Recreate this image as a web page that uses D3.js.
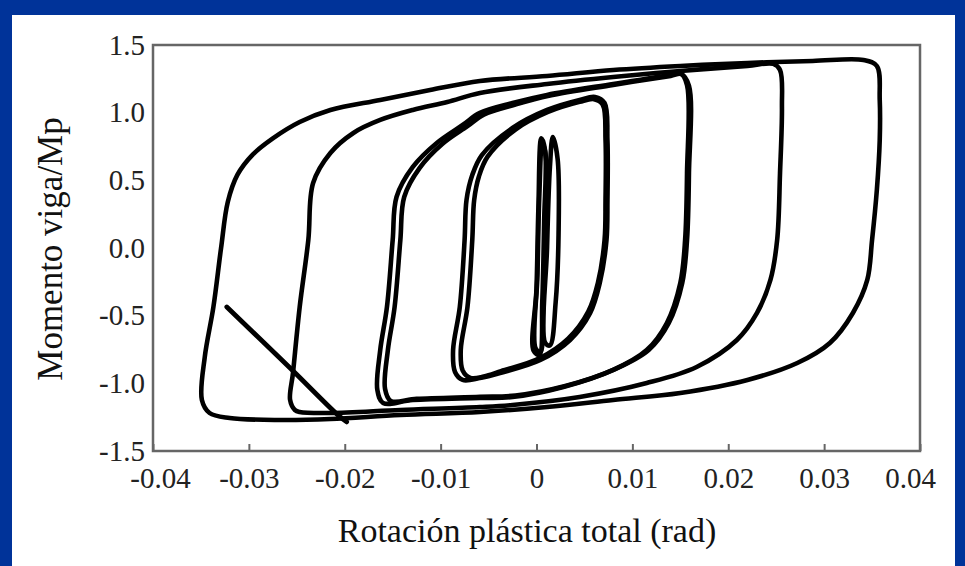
<!DOCTYPE html>
<html><head><meta charset="utf-8">
<script src="https://cdn.jsdelivr.net/npm/d3@7"></script>
<style>html,body{margin:0;padding:0;background:#fff}svg{display:block}</style>
</head><body>
<svg id="c" width="965" height="566"></svg>
<script>
// ---------- data (rotation in rad, moment / Mp) ----------
const xTicks = [-0.04,-0.03,-0.02,-0.01,0,0.01,0.02,0.03,0.04];
const xTickLabels = ["-0.04","-0.03","-0.02","-0.01","0","0.01","0.02","0.03","0.04"];
const yTicks = [-1.5,-1.0,-0.5,0,0.5,1.0,1.5];
const yTickLabels = ["-1.5","-1.0","-0.5","0.0","0.5","1.0","1.5"];
const xTitle = "Rotación plástica total (rad)";
const yTitle = "Momento viga/Mp";

const cycleElasticA = [[-0.0003,-0.76],[0.0000,-0.30],[0.0002,0.30],[0.0005,0.81],[0.0009,0.72],[0.0008,0.20],[0.0006,-0.40],[0.0003,-0.79]];
const cycleElasticB = [[-0.0001,-0.74],[0.0001,-0.20],[0.0003,0.40],[0.0006,0.78],[0.0010,0.66],[0.0009,0.10],[0.0007,-0.45],[0.0004,-0.77]];
const cycleElasticC = [[0.0009,-0.70],[0.0011,0.00],[0.0014,0.60],[0.0017,0.82],[0.0022,0.66],[0.0023,0.10],[0.0020,-0.40],[0.0014,-0.72]];

const cycle08a = [[-0.0077,-0.975],[-0.0085,-0.916],[-0.0087,-0.754],[-0.0080,-0.436],[-0.0075,0.059],[-0.0073,0.355],[-0.0067,0.539],[-0.0057,0.687],[-0.0025,0.887],[0.0011,1.020],[0.0045,1.094],[0.0061,1.116],[0.0071,1.071],[0.0074,0.798],[0.0074,0.355],[0.0073,0.059],[0.0066,-0.259],[0.0056,-0.480],[0.0035,-0.680],[0.0004,-0.828],[-0.0038,-0.924],[-0.0059,-0.961]];
const cycle08b = [[-0.0069,-0.960],[-0.0077,-0.905],[-0.0079,-0.754],[-0.0072,-0.436],[-0.0067,0.059],[-0.0065,0.355],[-0.0060,0.530],[-0.0051,0.675],[-0.0022,0.875],[0.0012,1.005],[0.0045,1.080],[0.0060,1.100],[0.0069,1.060],[0.0072,0.798],[0.0072,0.355],[0.0071,0.059],[0.0064,-0.259],[0.0054,-0.470],[0.0033,-0.670],[0.0003,-0.815],[-0.0037,-0.910],[-0.0055,-0.950]];

const cycle16a = [[-0.0160,-1.145],[-0.0166,-1.049],[-0.0163,-0.754],[-0.0156,-0.436],[-0.0150,0.059],[-0.0146,0.377],[-0.0129,0.599],[-0.0104,0.776],[-0.0077,0.909],[-0.0059,0.998],[-0.0025,1.071],[0.0011,1.131],[0.0080,1.212],[0.0139,1.278],[0.0150,1.293],[0.0157,1.204],[0.0157,0.554],[0.0155,0.059],[0.0150,-0.259],[0.0136,-0.554],[0.0115,-0.754],[0.0080,-0.901],[0.0028,-1.027],[-0.0025,-1.101],[-0.0059,-1.108],[-0.0129,-1.123]];
const cycle16b = [[-0.0152,-1.130],[-0.0158,-1.040],[-0.0155,-0.754],[-0.0148,-0.436],[-0.0142,0.059],[-0.0138,0.377],[-0.0122,0.590],[-0.0098,0.770],[-0.0072,0.900],[-0.0055,0.985],[-0.0022,1.060],[0.0013,1.125],[0.0080,1.205],[0.0140,1.272],[0.0151,1.285],[0.0159,1.200],[0.0159,0.554],[0.0157,0.059],[0.0152,-0.259],[0.0138,-0.554],[0.0117,-0.754],[0.0082,-0.895],[0.0030,-1.020],[-0.0022,-1.090],[-0.0059,-1.100],[-0.0125,-1.115]];

const cycle25 = [[-0.0252,-1.197],[-0.0257,-1.123],[-0.0254,-0.924],[-0.0247,-0.436],[-0.0238,0.059],[-0.0233,0.480],[-0.0215,0.702],[-0.0191,0.850],[-0.0163,0.946],[-0.0129,1.020],[-0.0093,1.079],[-0.0059,1.145],[0.0011,1.212],[0.0080,1.264],[0.0150,1.308],[0.0220,1.345],[0.0247,1.360],[0.0254,1.315],[0.0256,1.042],[0.0254,0.554],[0.0251,0.059],[0.0244,-0.236],[0.0230,-0.480],[0.0209,-0.680],[0.0167,-0.879],[0.0115,-0.998],[0.0045,-1.101],[-0.0025,-1.160],[-0.0059,-1.175],[-0.0142,-1.197],[-0.0215,-1.219],[-0.0247,-1.212]];

const cycle35 = [[-0.0341,-1.219],[-0.0349,-1.123],[-0.0346,-0.805],[-0.0337,-0.436],[-0.0329,0.000],[-0.0322,0.340],[-0.0312,0.540],[-0.0296,0.690],[-0.0275,0.810],[-0.0247,0.931],[-0.0215,1.020],[-0.0163,1.094],[-0.0111,1.167],[-0.0059,1.234],[0.0011,1.271],[0.0080,1.315],[0.0150,1.345],[0.0220,1.367],[0.0288,1.382],[0.0341,1.389],[0.0355,1.345],[0.0358,1.094],[0.0358,0.798],[0.0355,0.429],[0.0350,0.059],[0.0345,-0.236],[0.0330,-0.480],[0.0306,-0.702],[0.0272,-0.850],[0.0220,-0.975],[0.0150,-1.071],[0.0080,-1.123],[0.0011,-1.175],[-0.0059,-1.212],[-0.0142,-1.234],[-0.0215,-1.264],[-0.0268,-1.271],[-0.0320,-1.256]];

const fractureBranch = [[-0.0198,-1.285],[-0.0207,-1.235],[-0.0257,-0.887],[-0.0323,-0.436]];

const closedCycles = [cycleElasticA, cycleElasticB, cycleElasticC, cycle08a, cycle08b, cycle16a, cycle16b, cycle25, cycle35];

// ---------- drawing ----------
const svg = d3.select("#c");
const W = 965, H = 566;
svg.append("rect").attr("x",0).attr("y",0).attr("width",W).attr("height",H).attr("fill","#003399");
svg.append("rect").attr("x",12).attr("y",15).attr("width",943).attr("height",H-15).attr("fill","#ffffff");

const m = {left:153, right:920, top:45, bottom:451};
const x = d3.scaleLinear().domain([-0.04,0.04]).range([m.left,m.right]);
const y = d3.scaleLinear().domain([-1.5,1.5]).range([m.bottom,m.top]);

const font = "'Liberation Serif','Times New Roman',Times,serif";

// frame
svg.append("rect").attr("x",m.left).attr("y",m.top)
  .attr("width",m.right-m.left).attr("height",m.bottom-m.top)
  .attr("fill","none").attr("stroke","#666").attr("stroke-width",2.5);

// curves
const line = d3.line().x(d=>x(d[0])).y(d=>y(d[1]));
const g = svg.append("g");
closedCycles.forEach(c=>{
  g.append("path").attr("d", line.curve(d3.curveCatmullRomClosed.alpha(0.5))(c))
   .attr("fill","none").attr("stroke","#000").attr("stroke-width",4.6).attr("stroke-linejoin","round");
});
g.append("path").attr("d", line.curve(d3.curveCatmullRom.alpha(0.5))(fractureBranch))
  .attr("fill","none").attr("stroke","#000").attr("stroke-width",4.8).attr("stroke-linecap","round");

// x axis
const xAxis = d3.axisBottom(x).tickValues(xTicks)
  .tickFormat((d,i)=>xTickLabels[i]).tickSize(-7).tickSizeOuter(0).tickPadding(16);
const gx = svg.append("g").attr("transform",`translate(0,${m.bottom})`).call(xAxis);
gx.select(".domain").remove();
gx.selectAll(".tick line").attr("stroke","#666").attr("stroke-width",2);
gx.selectAll(".tick text").attr("font-family",font).attr("font-size",29).attr("fill","#222")
  .attr("dx",(d,i)=> i===0 ? 7 : (i===xTicks.length-1 ? -10 : 0));

// y axis
const yAxis = d3.axisLeft(y).tickValues(yTicks)
  .tickFormat((d,i)=>yTickLabels[i]).tickSize(0).tickSizeOuter(0).tickPadding(8);
const gy = svg.append("g").attr("transform",`translate(${m.left},0)`).call(yAxis);
gy.select(".domain").remove();
gy.selectAll(".tick text").attr("font-family",font).attr("font-size",29).attr("fill","#222");

// titles
svg.append("text").attr("x",527).attr("y",542).attr("text-anchor","middle")
  .attr("font-family",font).attr("font-size",34).attr("fill","#111").text(xTitle);
svg.append("text").attr("transform","translate(62,249) rotate(-90)").attr("text-anchor","middle")
  .attr("font-family",font).attr("font-size",35).attr("fill","#111").text(yTitle);
</script>
</body></html>
